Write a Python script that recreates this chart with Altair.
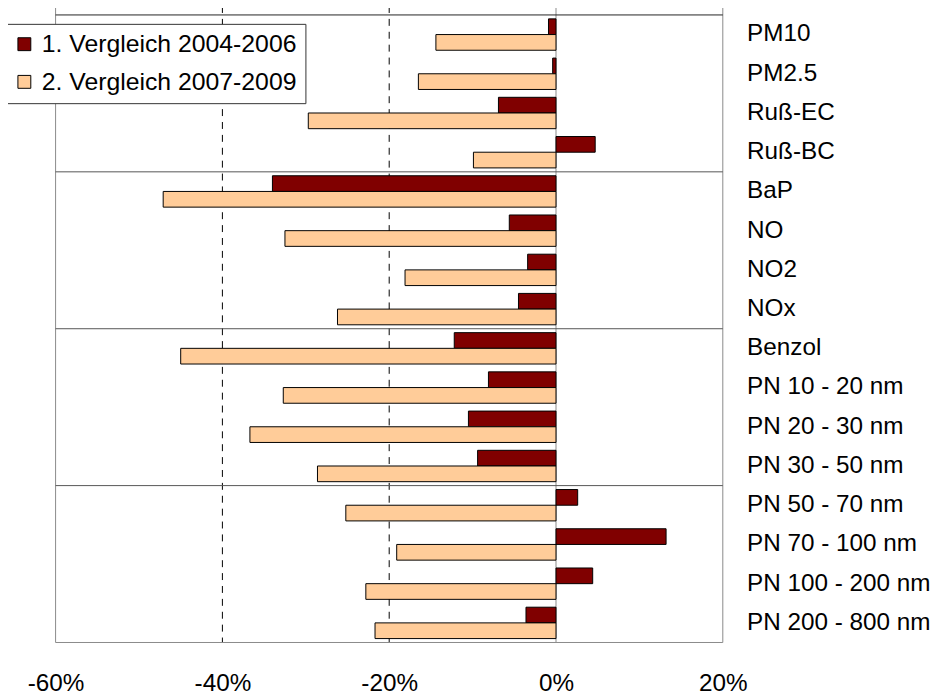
import altair as alt
import pandas as pd

categories = ["PM10", "PM2.5", "Ruß-EC", "Ruß-BC", "BaP", "NO", "NO2", "NOx",
              "Benzol", "PN 10 - 20 nm", "PN 20 - 30 nm", "PN 30 - 50 nm",
              "PN 50 - 70 nm", "PN 70 - 100 nm", "PN 100 - 200 nm", "PN 200 - 800 nm"]
series = ["1. Vergleich 2004-2006", "2. Vergleich 2007-2009"]
vergleich1 = [-0.9, -0.4, -6.9, 4.7, -34.0, -5.6, -3.4, -4.5,
              -12.2, -8.1, -10.5, -9.4, 2.6, 13.2, 4.4, -3.6]
vergleich2 = [-14.4, -16.5, -29.7, -9.9, -47.1, -32.5, -18.1, -26.2,
              -45.0, -32.7, -36.7, -28.6, -25.2, -19.1, -22.8, -21.7]
x_ticks = [-60, -40, -20, 0, 20]
solid_x = [-60, 0, 20]
dashed_x = [-40, -20]
top_bound = [0]
group_bounds = [4, 8, 12]
bottom_bound = [16]

W, H = 673, 633
FONT = "Liberation Sans"

rows = []
for c, a, b in zip(categories, vergleich1, vergleich2):
    rows.append({"cat": c, "series": series[0], "value": a})
    rows.append({"cat": c, "series": series[1], "value": b})
df = pd.DataFrame(rows)

xscale = alt.Scale(domain=[-60, 20], nice=False, zero=False)
xaxis = alt.Axis(values=x_ticks, labelExpr="datum.value + '%'", grid=False, ticks=False,
                 domain=False, labelPadding=29, labelFontSize=24.5, labelFont=FONT,
                 labelColor="black", labelFlush=False, labelOverlap=False, title=None)

bars = alt.Chart(df).mark_bar(stroke="black", strokeWidth=1).encode(
    x=alt.X("value:Q", scale=xscale, axis=xaxis),
    y=alt.Y("cat:N", sort=categories,
            scale=alt.Scale(paddingInner=0.2, paddingOuter=0.1),
            axis=alt.Axis(orient="right", domain=False, ticks=False, labelPadding=24,
                          labelFontSize=24.5, labelFont=FONT, labelColor="black",
                          labelAlign="left", labelLimit=400, title=None)),
    yOffset=alt.YOffset("series:N", sort=series),
    color=alt.Color("series:N", sort=series,
                    scale=alt.Scale(domain=series, range=["#800000", "#FFCC99"]),
                    legend=alt.Legend(title=None)),
)

vsolid = alt.Chart(pd.DataFrame({"x": solid_x})).mark_rule(color="#8a8a8a", strokeWidth=1).encode(
    x=alt.X("x:Q", scale=xscale, axis=xaxis), y=alt.value(-9), y2=alt.value(H))
vdash = alt.Chart(pd.DataFrame({"x": dashed_x})).mark_rule(
    color="black", strokeWidth=1, strokeDash=[7, 6]).encode(
    x=alt.X("x:Q", scale=xscale, axis=xaxis), y=alt.value(-9), y2=alt.value(H))

yq = alt.Scale(domain=[0, 16], reverse=True, nice=False, zero=False)
htop = alt.Chart(pd.DataFrame({"p": top_bound})).mark_rule(color="#222222", strokeWidth=1).encode(
    y=alt.Y("p:Q", scale=yq, axis=None), x=alt.value(0), x2=alt.value(W))
hsep = alt.Chart(pd.DataFrame({"p": group_bounds})).mark_rule(color="#555555", strokeWidth=1).encode(
    y=alt.Y("p:Q", scale=yq, axis=None), x=alt.value(0), x2=alt.value(W))
hbot = alt.Chart(pd.DataFrame({"p": bottom_bound})).mark_rule(color="#8a8a8a", strokeWidth=1).encode(
    y=alt.Y("p:Q", scale=yq, axis=None), x=alt.value(0), x2=alt.value(W))

chart = alt.layer(vdash, vsolid, htop, hsep, hbot, bars).resolve_scale(
    y="independent"
).properties(
    width=W, height=H,
    autosize=alt.AutoSizeParams(type="none"),
    padding={"left": 48, "top": 4, "right": 210, "bottom": 55},
).configure_view(stroke=None).configure_legend(
    orient="none", legendX=-49, legendY=9,
    strokeColor="#333333", fillColor="white", padding=8,
    symbolType="square", symbolSize=169, symbolStrokeColor="black", symbolStrokeWidth=1,
    symbolOpacity=1, symbolOffset=-3, labelFontSize=25, labelFont=FONT, labelColor="black",
    labelOffset=5, rowPadding=12, cornerRadius=0, labelLimit=400,
)

chart.save("out.html", embed_options={"renderer": "svg", "actions": False})
